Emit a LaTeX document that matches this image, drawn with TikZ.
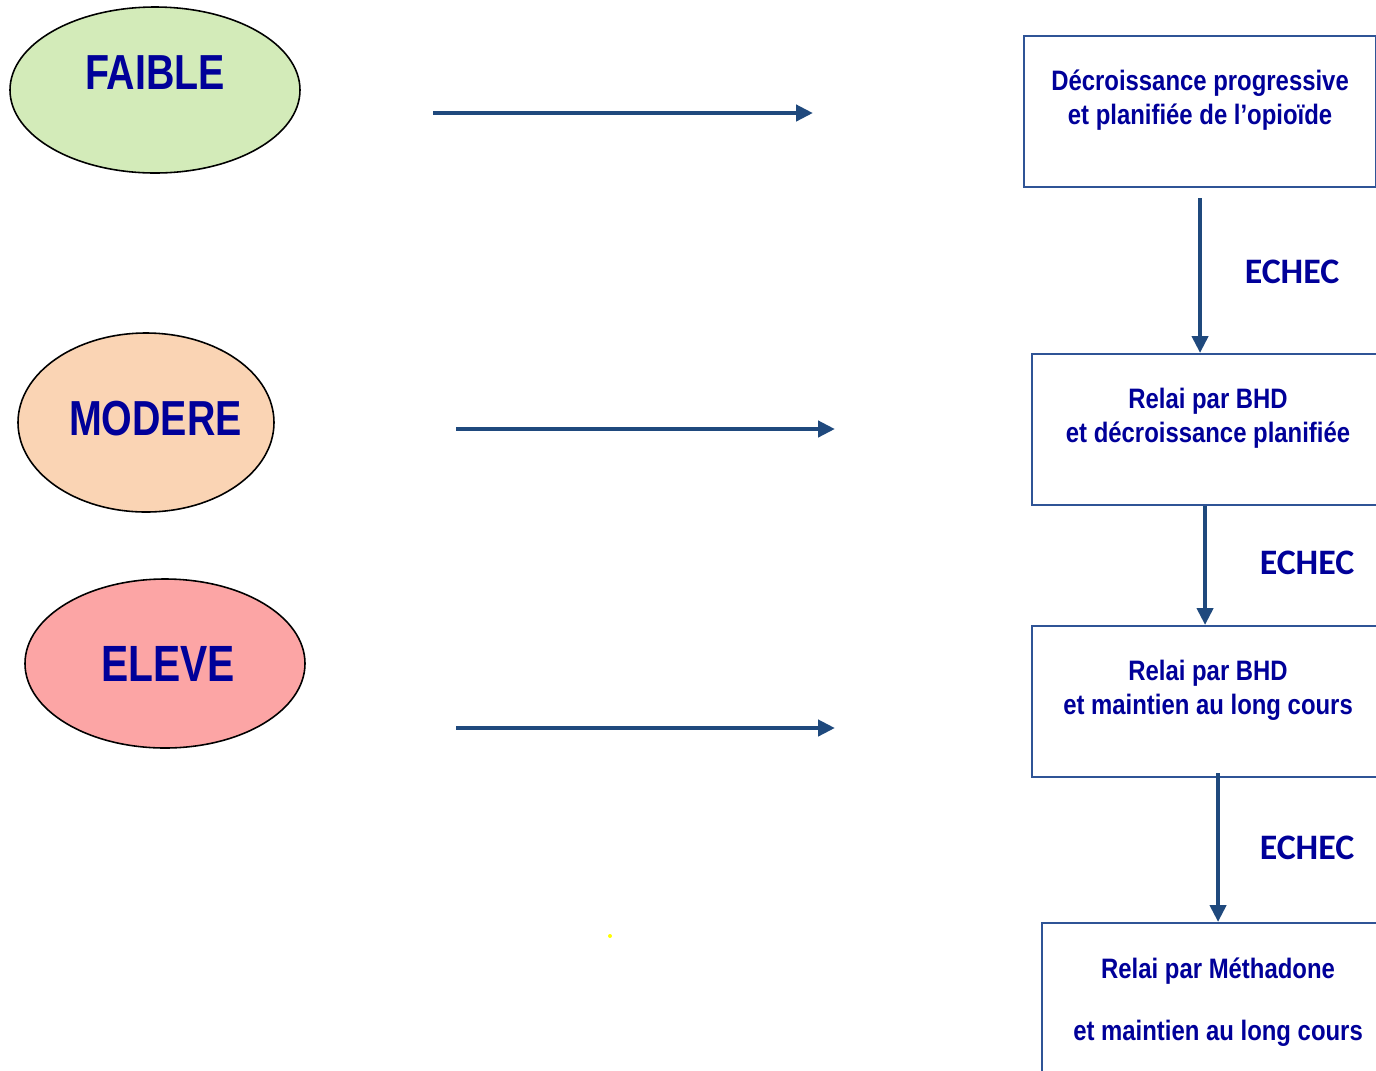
\documentclass[tikz,border=0pt]{standalone}
\usepackage{fontspec}
\usetikzlibrary{arrows.meta,positioning,shapes.geometric}
\newfontfamily\boxfont{Liberation Sans}[FakeStretch=0.85]
\newfontfamily\ovalfont{Liberation Sans}[FakeStretch=0.8]
\newfontfamily\echecfont{Carlito}
\definecolor{Navy}{HTML}{000099}
\definecolor{Arrow}{HTML}{1F497D}
\definecolor{Frame}{HTML}{2F5496}
\definecolor{Green}{HTML}{D3EBB9}
\definecolor{Peach}{HTML}{FAD4B4}
\definecolor{Rose}{HTML}{FCA5A5}
\definecolor{Dot}{HTML}{FFFF00}
\tikzset{oval/.style={ellipse,draw=black,line width=.45pt,inner sep=0pt,text=Navy,font=\ovalfont\bfseries\fontsize{14}{16}\selectfont},stepbox/.style={draw=Frame,line width=.6pt,minimum width=3.52cm,minimum height=1.51cm,inner sep=0pt,anchor=north west},steptext/.style={align=center,inner sep=0pt,text=Navy,font=\boxfont\bfseries\fontsize{8}{9.7}\selectfont},echec/.style={text=Navy,font=\echecfont\bfseries\fontsize{10.2}{12}\selectfont},flow/.style={-{Triangle[length=1.7mm,width=1.6mm]},line width=1.2pt,draw=Arrow}}
\begin{document}
\begin{tikzpicture}[node distance=.34cm]
      \useasboundingbox (0,0) rectangle (13.76,-10.70);
      \clip (0,0) rectangle (13.76,-10.70);
      % levels
      \node[oval,fill=Green,minimum width=2.9cm,minimum height=1.66cm,text depth=.34cm](faible) at (1.55,-0.90){FAIBLE};
      \node[oval,fill=Peach,minimum width=2.56cm,minimum height=1.79cm,text depth=.08cm](modere) at (1.46,-4.225){\makebox[1.2cm]{\hspace*{.19cm}MODERE}};
      \node[oval,fill=Rose,minimum width=2.8cm,minimum height=1.69cm,font=\ovalfont\bfseries\fontsize{14.5}{16}\selectfont](eleve) at (1.65,-6.635){\makebox[1.2cm]{\hspace*{.06cm}ELEVE}};
      % steps
      \node[stepbox](b1) at (10.23,-0.35){};
      \node[steptext,below=of b1.north](t1){Décroissance progressive\\et planifiée de l’opioïde};
      \node[stepbox](b2) at (10.31,-3.53){};
      \node[steptext,below=of b2.north](t2){Relai par BHD\\et décroissance planifiée};
      \node[stepbox](b3) at (10.31,-6.25){};
      \node[steptext,below=of b3.north](t3){Relai par BHD\\et maintien au long cours};
      \node[stepbox,minimum height=1.6cm](b4) at (10.41,-9.22){};
      \node[steptext,below=.35cm of b4.north](t4){Relai par Méthadone\\[7.9pt]et maintien au long cours};
      % failures
      \draw[flow]([yshift=-1mm]b1.south)--(b1.south|-b2.north);
      \draw[flow]([xshift=-.3mm]b2.south)--([xshift=-.3mm]b2.south|-b3.north);
      \draw[flow]([xshift=1mm,yshift=.5mm]b3.south)--([xshift=1mm]b3.south|-b4.north);
      \node[echec](e1) at (12.92,-2.72){ECHEC};
      \node[echec](e2) at (13.07,-5.63){ECHEC};
      \node[echec](e3) at (13.07,-8.48){ECHEC};
      % level arrows
      \coordinate(h1s) at (4.33,-1.13);\coordinate(h1e) at (8.13,-1.13);
      \coordinate(h2s) at (4.56,-4.29);\coordinate(h2e) at (8.35,-4.29);
      \coordinate(h3s) at (4.56,-7.28);\coordinate(h3e) at (8.35,-7.28);
      \draw[flow](h1s)--(h1e);\draw[flow](h2s)--(h2e);\draw[flow](h3s)--(h3e);
      \fill[Dot](6.10,-9.36) circle (.02);
    \end{tikzpicture}
\end{document}
